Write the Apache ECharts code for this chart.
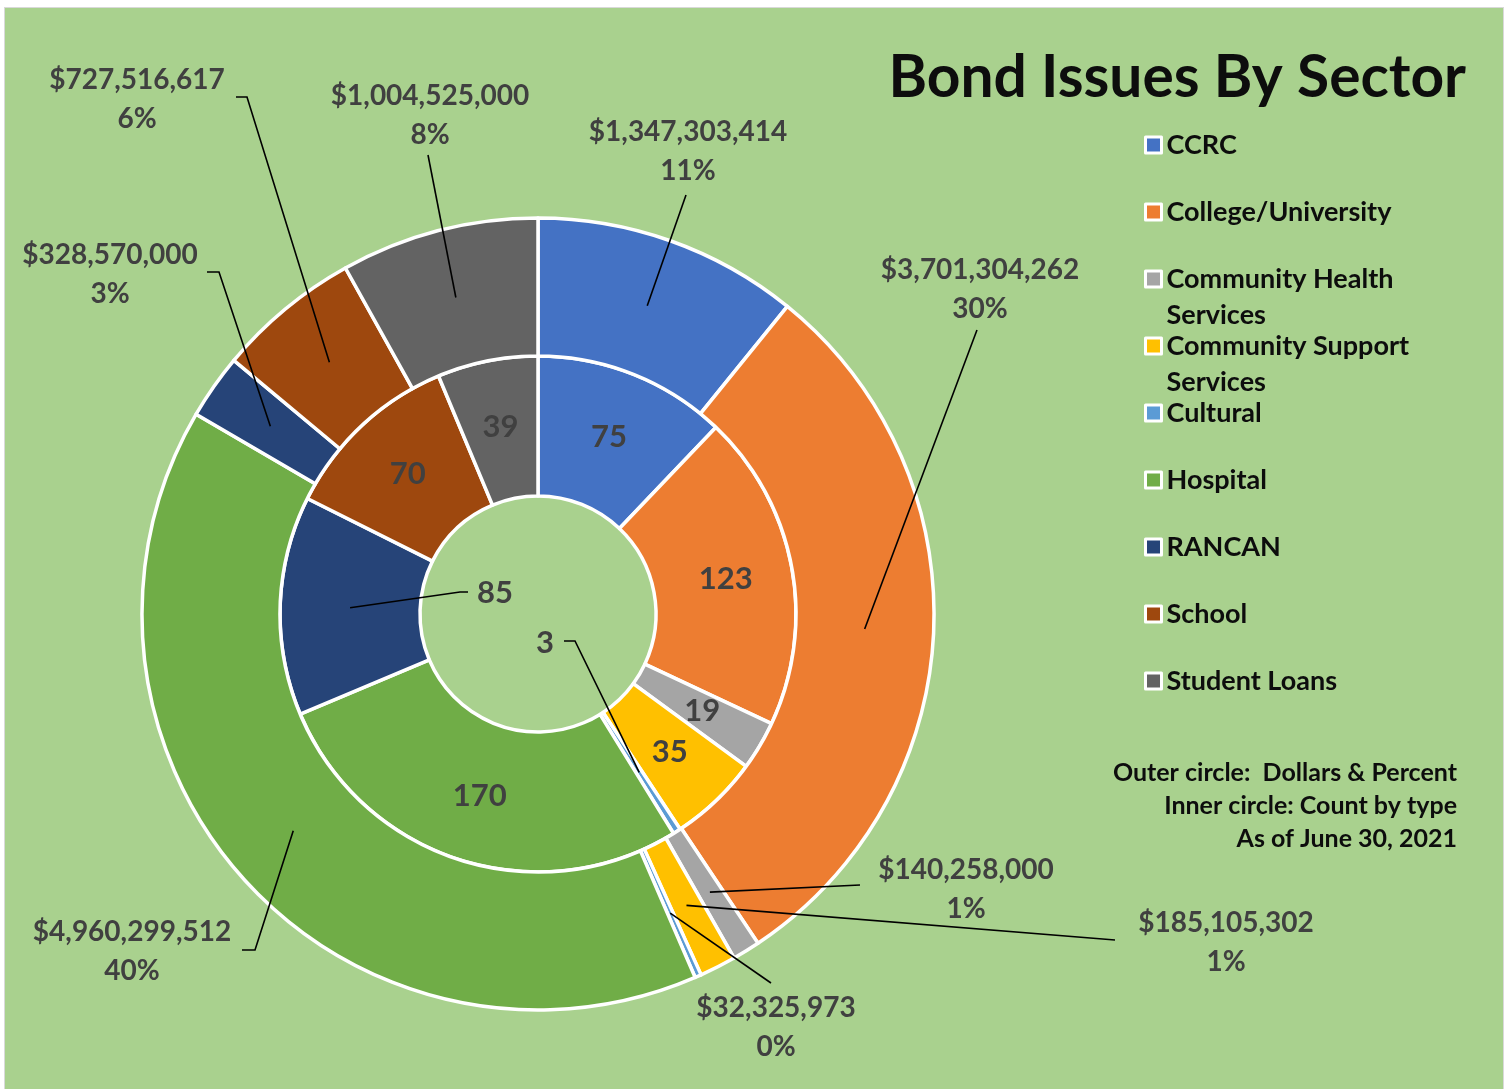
<!DOCTYPE html>
<html>
<head>
<meta charset="utf-8">
<script src="https://cdn.jsdelivr.net/npm/echarts@6/dist/echarts.min.js"></script>
<style>
  html, body { margin: 0; padding: 0; background: #ffffff; }
  #chart { position: absolute; left: 4px; top: 7px; width: 1498px; height: 1090px;
           border: 1px solid #d9d9d9; background: #A9D18E; }
</style>
</head>
<body>
<div id="chart"></div>
<script>
// ---------- data ----------
const categories = ['CCRC', 'College/University', 'Community Health Services', 'Community Support Services',
                    'Cultural', 'Hospital', 'RANCAN', 'School', 'Student Loans'];
const legendNames = ['CCRC', 'College/University', 'Community Health\nServices', 'Community Support\nServices',
                     'Cultural', 'Hospital', 'RANCAN', 'School', 'Student Loans'];
const dollars = [1347303414, 3701304262, 140258000, 185105302, 32325973, 4960299512, 328570000, 727516617, 1004525000];
const counts = [75, 123, 19, 35, 3, 170, 85, 70, 39];
const colors = ['#4472C4', '#ED7D31', '#A5A5A5', '#FFC000', '#5B9BD5', '#70AD47', '#264478', '#9E480E', '#636363'];
const titleText = 'Bond Issues By Sector';
const noteText = 'Outer circle:  Dollars & Percent\nInner circle: Count by type\nAs of June 30, 2021';

// ---------- layout (chart pixel coords) ----------
const CX = 533, CY = 606;
const OUTER_R = [258, 396];
const INNER_R = [118, 258];
const FONT = 'Lato';
const LABEL_COLOR = '#404040';
const BORDER_W = 3.5;

// outer label centres and leader-line bends (from label end back to sector)
const outerLabelLayout = [
  { c: [683, 143],  pts: [[681, 187]] },
  { c: [975, 281],  pts: [[972, 322]] },
  { c: [961, 881],  pts: [[855, 877]] },
  { c: [1221, 934], pts: [[1110, 932]] },
  { c: [771, 1019], pts: [[766, 975]] },
  { c: [127, 943],  pts: [[250, 942], [237, 942]] },
  { c: [105, 266],  pts: [[214, 264], [202, 264]] },
  { c: [132, 91],   pts: [[242, 89], [231, 89]] },
  { c: [425, 107],  pts: [[423, 147]] }
];
const innerLabelLayout = {
  4: { c: [540, 635], pts: [[570, 633], [559, 633]] },
  6: { c: [490, 585], pts: [[455, 584], [463, 584]] }
};

function midAngles(values) {
  const total = values.reduce((a, b) => a + b, 0);
  let acc = 0;
  return values.map(v => { const a = (acc + v / 2) / total * 2 * Math.PI; acc += v; return a; });
}
function polar(r, a) { return [CX + r * Math.sin(a), CY - r * Math.cos(a)]; }
const outerMid = midAngles(dollars);
const innerMid = midAngles(counts);
const outerMidR = (OUTER_R[0] + OUTER_R[1]) / 2;
const innerMidR = (INNER_R[0] + INNER_R[1]) / 2;

const chart = echarts.init(document.getElementById('chart'));

// one legend per entry so two-line names keep the same pitch
const LEGEND_FS = 27, LEGEND_LH = 36;
const legends = categories.map((name, i) => {
  const twoLine = legendNames[i].indexOf('\n') >= 0;
  return {
    data: [name],
    left: 1134,
    top: 114 + i * 67 - (twoLine ? LEGEND_LH : 0),
    orient: 'vertical',
    icon: 'rect',
    itemWidth: 16,
    itemHeight: 16,
    itemStyle: { borderColor: '#ffffff', borderWidth: 3 },
    // a blank leading line keeps the first text line level with the marker
    formatter: () => (twoLine ? ' \n' : '') + legendNames[i],
    textStyle: { fontFamily: FONT, fontWeight: 'bold', fontSize: LEGEND_FS, color: '#0d0d0d',
                 lineHeight: LEGEND_LH }
  };
});

const transparent = { color: 'rgba(0,0,0,0)', borderWidth: 0 };
const lineStyle = { color: '#000000', width: 1.6 };

const option = {
  animation: false,
  backgroundColor: '#A9D18E',
  color: colors,
  title: [
    { text: titleText, right: 32, top: 36,
      textStyle: { fontFamily: FONT, fontWeight: 'bold', fontSize: 58.7, color: '#0d0d0d' } }
  ],
  graphic: [
    { type: 'text', x: 1452, y: 748,
      style: { text: noteText, align: 'right', verticalAlign: 'top',
               font: 'bold 25px ' + FONT, lineHeight: 33, fill: '#0d0d0d' } }
  ],
  legend: legends,
  series: [
    // inner ring: counts
    {
      name: 'Count',
      type: 'pie',
      center: [CX, CY],
      radius: INNER_R,
      startAngle: 90,
      clockwise: true,
      avoidLabelOverlap: false,
      itemStyle: { borderColor: '#ffffff', borderWidth: BORDER_W },
      label: { show: true, position: 'inside', formatter: '{c}',
               fontFamily: FONT, fontWeight: 'bold', fontSize: 31, color: LABEL_COLOR },
      labelLine: { show: false },
      data: categories.map((name, i) => ({
        name: name, value: counts[i], label: { show: !innerLabelLayout[i] }
      }))
    },
    // outer ring: dollars
    {
      name: 'Dollars',
      type: 'pie',
      center: [CX, CY],
      radius: OUTER_R,
      startAngle: 90,
      clockwise: true,
      avoidLabelOverlap: false,
      itemStyle: { borderColor: '#ffffff', borderWidth: BORDER_W },
      label: { show: false },
      labelLine: { show: false },
      data: categories.map((name, i) => ({ name: name, value: dollars[i] }))
    },
    // label layer for the inner ring's moved labels (drawn above the rings)
    {
      name: 'Count labels',
      type: 'pie',
      z: 10,
      silent: true,
      center: [CX, CY],
      radius: INNER_R,
      startAngle: 90,
      clockwise: true,
      avoidLabelOverlap: false,
      itemStyle: transparent,
      emphasis: { disabled: true },
      label: { show: true, position: 'outside', formatter: '{c}',
               fontFamily: FONT, fontWeight: 'bold', fontSize: 31, color: LABEL_COLOR },
      labelLine: { show: true, length: 10, length2: 10, lineStyle: lineStyle },
      labelLayout: function (p) {
        const m = innerLabelLayout[p.dataIndex];
        if (!m) return {};
        const start = polar(innerMidR, innerMid[p.dataIndex]);
        return { x: m.c[0], y: m.c[1], align: 'center', verticalAlign: 'middle',
                 labelLinePoints: [start].concat(m.pts) };
      },
      data: categories.map((name, i) => ({
        name: name, value: counts[i],
        label: { show: !!innerLabelLayout[i] },
        labelLine: { show: !!innerLabelLayout[i] }
      }))
    },
    // label layer for the outer ring
    {
      name: 'Dollar labels',
      type: 'pie',
      z: 10,
      silent: true,
      center: [CX, CY],
      radius: OUTER_R,
      startAngle: 90,
      clockwise: true,
      avoidLabelOverlap: false,
      itemStyle: transparent,
      emphasis: { disabled: true },
      label: {
        show: true, position: 'outside',
        formatter: p => '$' + p.value.toLocaleString('en-US') + '\n' + Math.round(p.percent) + '%',
        fontFamily: FONT, fontWeight: 'bold', fontSize: 28, lineHeight: 39, color: LABEL_COLOR, align: 'center'
      },
      labelLine: { show: true, length: 10, length2: 10, lineStyle: lineStyle },
      labelLayout: function (p) {
        const m = outerLabelLayout[p.dataIndex];
        const start = polar(outerMidR, outerMid[p.dataIndex]);
        return { x: m.c[0], y: m.c[1], align: 'center', verticalAlign: 'middle',
                 labelLinePoints: [start].concat(m.pts) };
      },
      data: categories.map((name, i) => ({ name: name, value: dollars[i] }))
    }
  ]
};
chart.setOption(option);
</script>
</body>
</html>
